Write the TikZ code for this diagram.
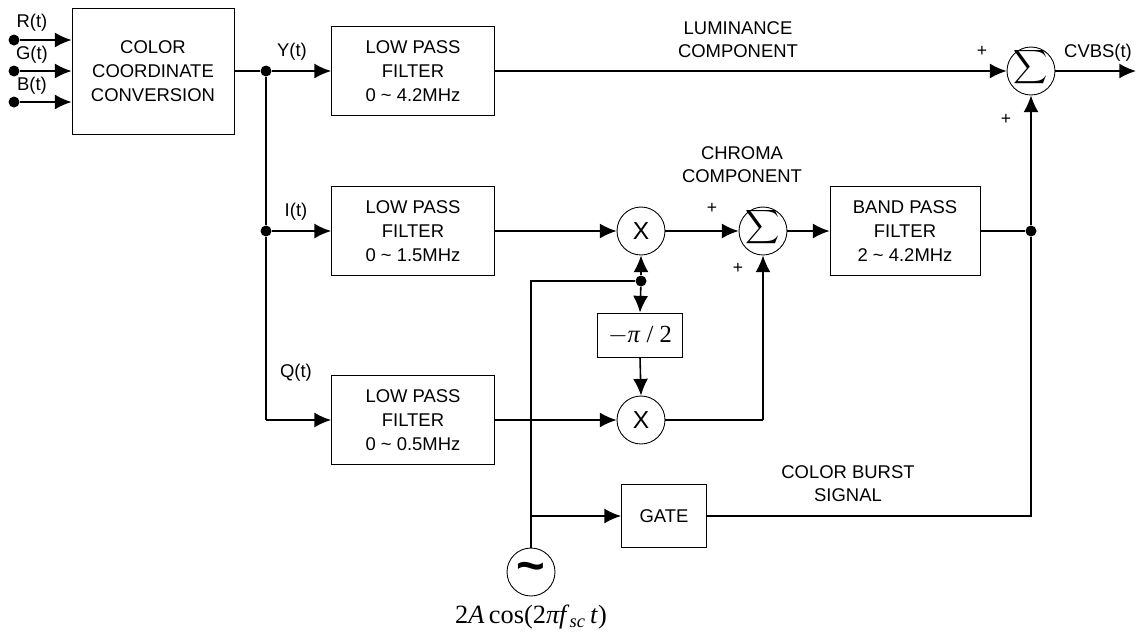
\documentclass[tikz,border=0pt]{standalone}
\usepackage{fontspec}
\setmainfont{Liberation Sans}
\newfontfamily\serifm{Liberation Serif}
\usetikzlibrary{arrows.meta}
\newcommand{\sumsym}{\smash{\makebox[0pt][c]{\raisebox{-0.25ex}{\scalebox{1.35}{$\displaystyle\sum$}}}}}
\tikzset{
  blk/.style={draw, line width=0.5pt, align=center, font=\fontsize{10.5}{13.5}\selectfont, inner sep=0pt},
  circ/.style={draw, circle, line width=0.5pt, minimum size=0.96cm, inner sep=0pt},
  wire/.style={line width=0.9pt},
  arr/.style={line width=0.9pt, -{Latex[length=9.5pt,width=8.5pt]}},
  dotn/.style={circle, fill, inner sep=0pt, minimum size=0.22cm},
  lbl/.style={font=\fontsize{10.5}{13}\selectfont, align=center},
  pl/.style={font=\fontsize{10}{10}\selectfont}
}
\begin{document}
\begin{tikzpicture}[x=0.02cm, y=-0.02cm]
\useasboundingbox (0,0) rectangle (1136,637);
% blocks
\node[blk, minimum width=3.24cm, minimum height=2.52cm] (ccc) at (153,71) {COLOR\\COORDINATE\\CONVERSION};
\node[blk, minimum width=3.26cm, minimum height=1.78cm] (lpf1) at (413,71) {LOW PASS\\FILTER\\0 \textasciitilde{} 4.2MHz};
\node[blk, minimum width=3.26cm, minimum height=1.78cm] (lpf2) at (413,231) {LOW PASS\\FILTER\\0 \textasciitilde{} 1.5MHz};
\node[blk, minimum width=3.26cm, minimum height=1.78cm] (lpf3) at (413,420) {LOW PASS\\FILTER\\0 \textasciitilde{} 0.5MHz};
\node[blk, minimum width=3.0cm, minimum height=1.78cm] (bpf) at (905,231) {BAND PASS\\FILTER\\2 \textasciitilde{} 4.2MHz};
\node[blk, minimum width=1.7cm, minimum height=0.88cm, font=\serifm\fontsize{14}{16}\selectfont] (ph) at (640,335) {$-$\textit{π} / 2};
\node[blk, minimum width=1.7cm, minimum height=1.26cm] (gate) at (664,516) {GATE};
% circles
\node[circ] (s1) at (1031,71) {\sumsym};
\node[circ] (s2) at (763,231) {\sumsym};
\node[circ] (m1) at (641,231) {\fontsize{14}{14}\selectfont X};
\node[circ] (m2) at (641,420) {\fontsize{14}{14}\selectfont X};
\node[circ] (osc) at (531,572) {\fontsize{28}{28}\selectfont\bfseries\raisebox{-0.5ex}{\textasciitilde}};
\node[font=\serifm\fontsize{15}{17}\selectfont] (osclbl) at (531,617) {2\textit{A}\,cos(2\textit{πf}\textsubscript{\textit{sc}}\,\textit{t})};
% inputs
\node[dotn] (rin) at (14,40) {};
\node[dotn] (gin) at (14,71) {};
\node[dotn] (bin) at (14,102) {};
\draw[arr] (rin) -- (rin -| ccc.west);
\draw[arr] (gin) -- (gin -| ccc.west);
\draw[arr] (bin) -- (bin -| ccc.west);
\node[lbl] (rl) at (32,23) {R(t)};
\node[lbl] (gl) at (32,55) {G(t)};
\node[lbl] (bl) at (32,86) {B(t)};
% Y branch
\node[dotn] (jy) at (266,71) {};
\node[dotn] (ji) at (266,231) {};
\coordinate (cq) at (266,420);
\draw[wire] (ccc.east) -- (jy);
\draw[arr] (jy) -- (lpf1.west);
\draw[wire] (jy) -- (ji) -- (cq);
\draw[arr] (ji) -- (lpf2.west);
\draw[arr] (cq) -- (lpf3.west);
\node[lbl] (yl) at (292,52) {Y(t)};
\node[lbl] (il) at (296,212) {I(t)};
\node[lbl] (ql) at (296,373) {Q(t)};
% luminance
\draw[arr] (lpf1.east) -- (s1.west);
\node[lbl] (lum) at (738,40) {LUMINANCE\\COMPONENT};
\node[pl] (p1) at (982,51) {+};
\node[pl] (p2) at (1006,119) {+};
\coordinate (cout) at (1136,71);
\draw[arr] (s1.east) -- (cout);
\node[lbl] (cvbs) at (1098,53) {CVBS(t)};
% chroma
\draw[arr] (lpf2.east) -- (m1.west);
\draw[arr] (m1.east) -- (s2.west);
\node[pl] (p3) at (712,208) {+};
\node[pl] (p4) at (738,268) {+};
\node[lbl] (chr) at (742,165) {CHROMA\\COMPONENT};
\draw[arr] (s2.east) -- (bpf.west);
\node[dotn] (jb) at (1031,231) {};
\draw[wire] (bpf.east) -- (jb);
\draw[arr] (jb) -- (s1.south);
\draw[arr] (lpf3.east) -- (m2.west);
\coordinate (c2) at (763,420);
\draw[wire] (m2.east) -- (c2);
\draw[arr] (c2) -- (s2.south);
% oscillator
\node[dotn] (jo) at (641,281) {};
\coordinate (co) at (531,281);
\coordinate (cg) at (531,516);
\draw[arr] (jo) -- (m1.south);
\draw[arr] (jo) -- (ph.north);
\draw[arr] (ph.south) -- (m2.north);
\draw[wire] (jo) -- (co) -- (osc.north);
\draw[arr] (cg) -- (gate.west);
\coordinate (cb) at (1031,516);
\draw[wire] (gate.east) -- (cb) -- (jb);
\node[lbl] (burst) at (848,484) {COLOR BURST\\SIGNAL};
\end{tikzpicture}
\end{document}
